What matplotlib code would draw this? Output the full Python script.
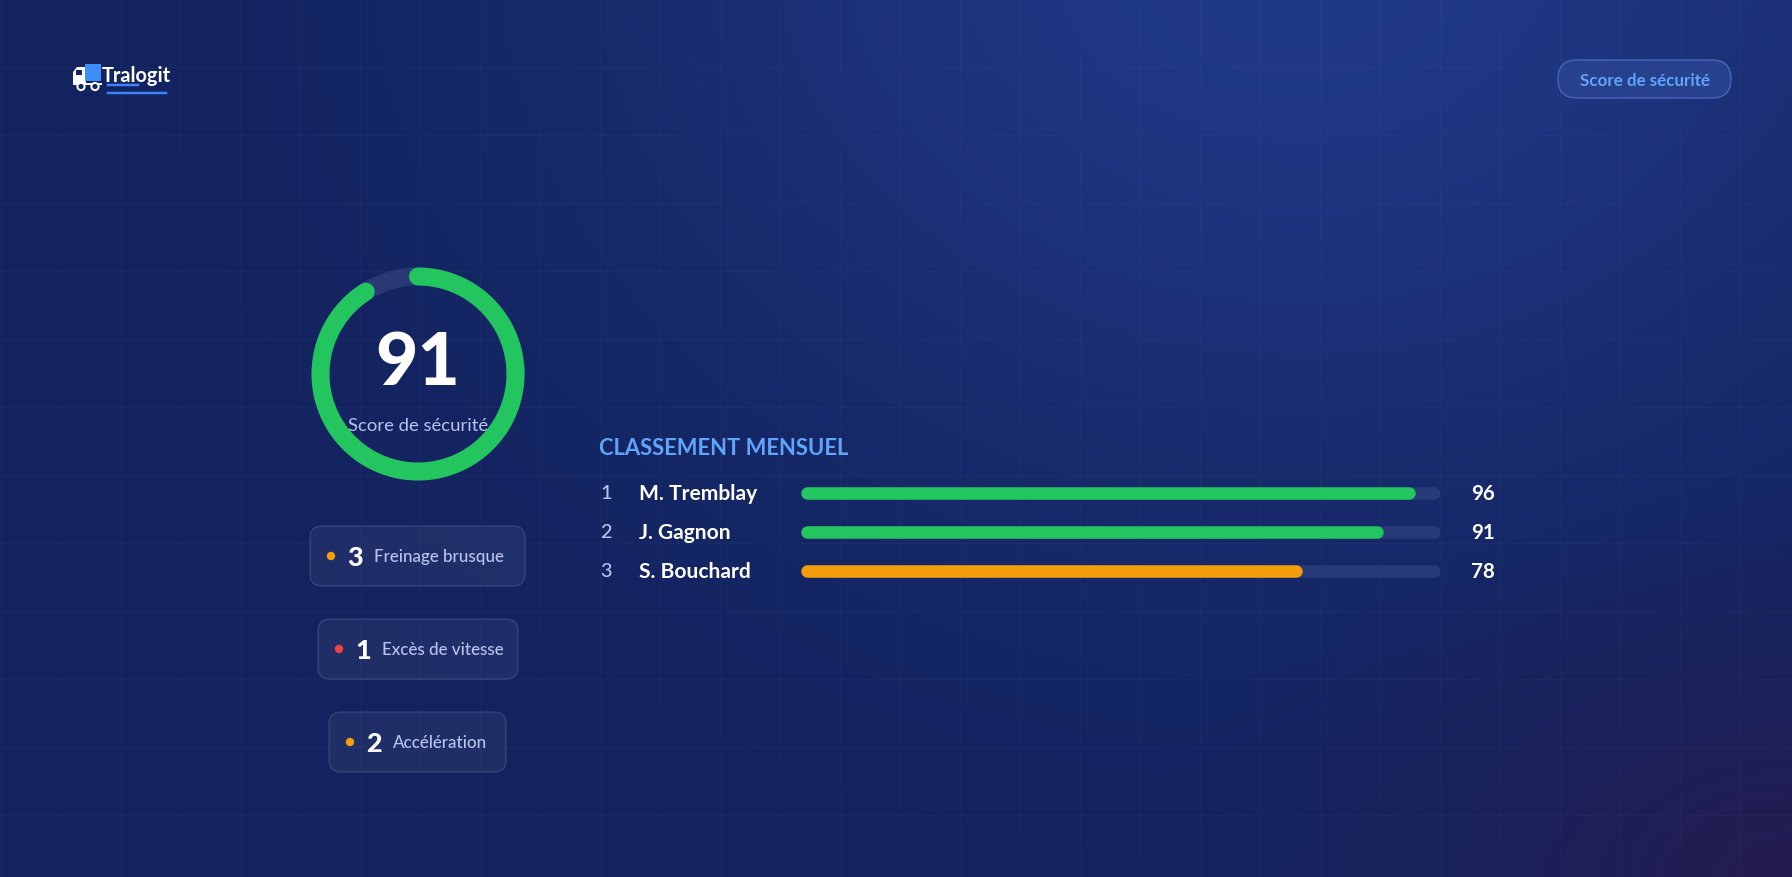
import numpy as np
import matplotlib
matplotlib.use("Agg")
import matplotlib.pyplot as plt
from matplotlib.patches import FancyBboxPatch, Circle, Rectangle, Polygon

# ---- données ----
brand = "Tralogit"
badge_label = "Score de sécurité"
score = 91
score_label = "Score de sécurité"
event_counts = [3, 1, 2]
event_labels = ["Freinage brusque", "Excès de vitesse", "Accélération"]
event_colors = ["#f59e0b", "#ef4444", "#f59e0b"]
rank_title = "CLASSEMENT MENSUEL"
ranks = [1, 2, 3]
drivers = ["M. Tremblay", "J. Gagnon", "S. Bouchard"]
driver_scores = [96, 91, 78]
bar_colors = ["#22c55e", "#22c55e", "#f59e0b"]

W, H, DPI = 1792, 878, 100
PT = 72.0 / DPI  # px -> pt
FONT = ["Lato", "DejaVu Sans"]
LAV = "#b9c3ee"
GREEN = "#22c55e"

fig = plt.figure(figsize=(W / DPI, H / DPI), dpi=DPI)
ax = fig.add_axes([0, 0, 1, 1])
ax.set_xlim(0, W)
ax.set_ylim(H, 0)
ax.axis("off")

# fond dégradé
yy, xx = np.mgrid[0:H, 0:W].astype(float)
base = np.array([0x13, 0x23, 0x5f]) / 255
glow = np.array([0x21, 0x3a, 0x88]) / 255
purple = np.array([0x25, 0x1c, 0x50]) / 255
g = np.exp(-(((xx - 1300) / 650) ** 2 + ((yy + 60) / 520) ** 2))
p = np.clip(1 - np.hypot((xx - W) / 650, (yy - H) / 420), 0, 1) ** 1.4
img = base[None, None, :] * np.ones((H, W, 1))
img = img * (1 - g[..., None]) + glow * g[..., None]
img = img * (1 - p[..., None]) + purple * p[..., None]
ax.imshow(img, extent=[0, W, H, 0], zorder=0, aspect="auto")

# grille discrète
for gx in np.arange(0, W, 60):
    ax.axvline(gx, color="white", alpha=0.025, lw=1, zorder=1)
for gy in np.arange(0, H, 68):
    ax.axhline(gy, color="white", alpha=0.025, lw=1, zorder=1)

# logo
ax.add_patch(Polygon([(73, 84), (73, 73), (77, 68), (86, 68), (86, 84)],
                     closed=True, fc="white", ec="none", zorder=3))
ax.add_patch(Rectangle((76, 71), 6, 5, fc="#13235f", ec="none", zorder=4))
ax.add_patch(Rectangle((85, 65), 16, 17, fc="#3b8ff6", ec="none", zorder=3))
ax.plot([74, 101], [85, 85], color="white", lw=2 * PT, zorder=3)
for wx in (81, 95):
    ax.add_patch(Circle((wx, 87.5), 3.6, fc="#13235f", ec="white", lw=2 * PT, zorder=5))
ax.text(102, 82, brand, fontsize=20 * PT, color="white", fontweight="bold",
        family=FONT, ha="left", va="baseline", zorder=3)
ax.plot([108, 138], [86, 86], color="#3b82f6", lw=2.5 * PT, zorder=3)
ax.plot([108, 166], [94, 94], color="#3b82f6", lw=2.5 * PT, zorder=3)

# badge en haut à droite
ax.add_patch(FancyBboxPatch((1558, 61), 173, 38, boxstyle="round,pad=0,rounding_size=19",
                            fc="#27418d", ec="#4766b8", lw=1, zorder=3))
ax.text(1644.5, 80.5, badge_label, fontsize=17 * PT, color="#60a5fa", fontweight="bold",
        family=FONT, ha="center", va="center", zorder=4)

# jauge
cx, cy, r = 418, 375, 97.5
ring_lw = 18 * PT
th = np.linspace(0, 2 * np.pi, 400)
ax.plot(cx + r * np.cos(th), cy - r * np.sin(th), color="#2a3875", lw=ring_lw, zorder=3)
th = np.pi / 2 - np.linspace(0, 2 * np.pi * score / 100, 400)
ax.plot(cx + r * np.cos(th), cy - r * np.sin(th), color=GREEN, lw=ring_lw,
        solid_capstyle="round", zorder=4)
ax.text(cx, 365, str(score), fontsize=73 * PT, color="white", fontweight="black",
        family=FONT, ha="center", va="center", zorder=5)
ax.text(cx, 426, score_label, fontsize=18.5 * PT, color=LAV,
        family=FONT, ha="center", va="center", zorder=5)

# pastilles d'événements
pill_left = [310, 318, 329]
pill_w = [215, 200, 177]
pill_cy = [557, 650, 743]
for i in range(len(event_labels)):
    x0, w, yc = pill_left[i], pill_w[i], pill_cy[i]
    ax.add_patch(FancyBboxPatch((x0, yc - 30), w, 60, boxstyle="round,pad=0,rounding_size=12",
                                fc="#ffffff", alpha=0.05, ec="none", zorder=3))
    ax.add_patch(FancyBboxPatch((x0, yc - 30), w, 60, boxstyle="round,pad=0,rounding_size=12",
                                fc="none", ec="#ffffff", alpha=0.12, lw=1, zorder=3))
    ax.add_patch(Circle((x0 + 21, yc), 4.2, fc=event_colors[i], ec="none", zorder=4))
    ax.text(x0 + 45, yc + 1, str(event_counts[i]), fontsize=27 * PT, color="white",
            fontweight="black", family=FONT, ha="center", va="center", zorder=4)
    ax.text(x0 + 64, yc, event_labels[i], fontsize=17 * PT, color=LAV, fontweight="medium",
            family=FONT, ha="left", va="center", zorder=4)

# classement
ax.text(599, 449, rank_title, fontsize=22 * PT, color="#60a5fa", fontweight="bold",
        family=FONT, ha="left", va="center", zorder=4)
row_y = [494, 533, 572]
for i in range(len(drivers)):
    ax.text(600, row_y[i], str(ranks[i]), fontsize=20 * PT, color=LAV, fontweight="medium",
            family=FONT, ha="left", va="center", zorder=4)
    ax.text(639, row_y[i], drivers[i], fontsize=21 * PT, color="white", fontweight="bold",
            family=FONT, ha="left", va="center", zorder=4)
    ax.text(1495, row_y[i], str(driver_scores[i]), fontsize=20.5 * PT, color="white",
            fontweight="bold", family=FONT, ha="right", va="center", zorder=4)

# barres dans leur propre axe (échelle 0-100)
bx0, bx1 = 801, 1440
by0, by1 = 474, 592
bax = fig.add_axes([bx0 / W, 1 - by1 / H, (bx1 - bx0) / W, (by1 - by0) / H])
bax.patch.set_alpha(0)
bax.axis("off")
bar_lw = 12.5 * PT
cap = 6.25 * 100 / (bx1 - bx0 - 12.5)
bax.set_xlim(-cap, 100 + cap)
bax.set_ylim(by1, by0)
for i in range(len(drivers)):
    yv = row_y[i]
    bax.plot([0, 100], [yv, yv], color="#283a78", lw=bar_lw, solid_capstyle="round")
    bax.plot([0, driver_scores[i]], [yv, yv], color=bar_colors[i], lw=bar_lw,
             solid_capstyle="round")

fig.savefig("out.png", dpi=DPI)
